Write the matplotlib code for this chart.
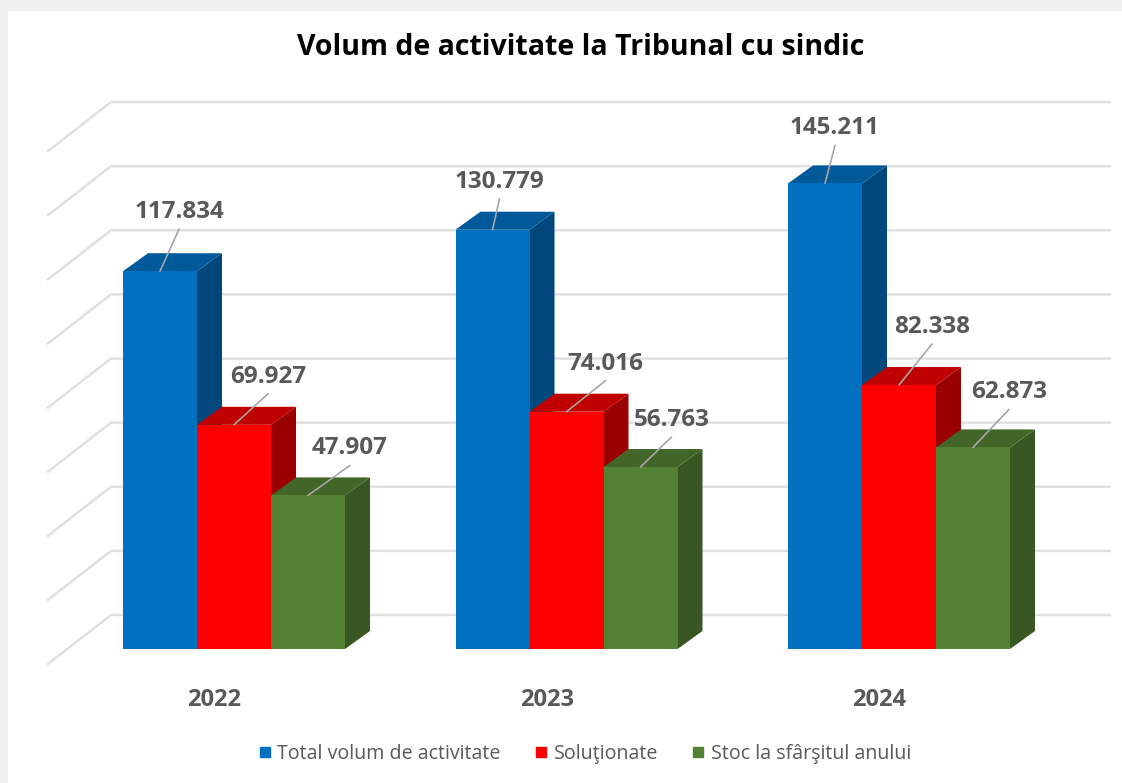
import matplotlib
matplotlib.use("Agg")
import matplotlib.pyplot as plt
import numpy as np
from matplotlib.patches import Rectangle
from matplotlib.lines import Line2D

years = ["2022", "2023", "2024"]
series_names = ["Total volum de activitate", "Soluţionate", "Stoc la sfârşitul anului"]
total_volum = [117834, 130779, 145211]
solutionate = [69927, 74016, 82338]
stoc = [47907, 56763, 62873]
grid_values = [0, 20000, 40000, 60000, 80000, 100000, 120000, 140000, 160000]

W, H = 1122, 783
PX_PER_UNIT = 0.003206          # vertical pixels per chart unit
PX_PER_CAT = 332.5              # horizontal pixels per category
BAR_W = 74 / PX_PER_CAT
DX, DY = 25, 18                 # bar depth in pixels
AX_TOP, AX_BOTTOM = 80, 668
BASE_PX, CENTER0_PX = 649, 234

front = ["#0070C0", "#FF0000", "#548235"]
top = ["#005A9A", "#C00000", "#426528"]
side = ["#00487C", "#9B0000", "#385723"]
GREY = "#595959"
plt.rcParams["font.family"] = ["Open Sans", "DejaVu Sans"]

fig = plt.figure(figsize=(W / 100, H / 100), dpi=100, facecolor="white")
ax = fig.add_axes([0, 1 - AX_BOTTOM / H, 1, (AX_BOTTOM - AX_TOP) / H])
ax.set_xlim(-CENTER0_PX / PX_PER_CAT, (W - CENTER0_PX) / PX_PER_CAT)
ax.set_ylim((BASE_PX - AX_BOTTOM) / PX_PER_UNIT, (BASE_PX - AX_TOP) / PX_PER_UNIT)
for s in ax.spines.values():
    s.set_visible(False)
ax.patch.set_alpha(0)
ax.set_yticks([])

# window frame remnants
fig.add_artist(Rectangle((0, 1 - 11 / H), 1, 11 / H, transform=fig.transFigure, fc="#F0F0F0", ec="none"))
fig.add_artist(Rectangle((0, 0), 8 / W, 1, transform=fig.transFigure, fc="#F0F0F0", ec="none"))

dx = DX / PX_PER_CAT
dy = DY / PX_PER_UNIT
back_y = 34 / PX_PER_UNIT       # back wall rise over the front baseline
wall_x = (111 - CENTER0_PX) / PX_PER_CAT
left_x = (48 - CENTER0_PX) / PX_PER_CAT
right_x = (1110 - CENTER0_PX) / PX_PER_CAT
left_drop = 15 / PX_PER_UNIT

for g in grid_values:
    ax.plot([left_x, wall_x, right_x], [g - left_drop, g + back_y, g + back_y],
            color="#E0E0E0", lw=1.8, solid_joinstyle="miter", zorder=1)

all_series = [total_volum, solutionate, stoc]
# label offsets in pixels from the middle of each bar's top front edge
label_off = [[(19, 61), (34, 50), (42, 49)],
             [(7, 50), (39, 50), (31, 49)],
             [(10, 57), (33, 60), (36, 57)]]

z = 2
for c in range(len(years)):
    for k, vals in enumerate(all_series):
        v = vals[c]
        x0 = c + (k - 1) * BAR_W - BAR_W / 2
        x1 = x0 + BAR_W
        ax.fill([x1, x1 + dx, x1 + dx, x1], [0, dy, v + dy, v], color=side[k], lw=0, zorder=z)
        ax.fill([x0, x1, x1 + dx, x0 + dx], [v, v, v + dy, v + dy], color=top[k], lw=0, zorder=z)
        z += 1
        ax.bar(c + (k - 1) * BAR_W, v, width=BAR_W, color=front[k], lw=0, zorder=z)
        z += 1

for c in range(len(years)):
    for k, vals in enumerate(all_series):
        v = vals[c]
        xc = c + (k - 1) * BAR_W
        ox, oy = label_off[c][k]
        ax.annotate("", xy=(xc, v), xytext=(ox, oy - 19), textcoords="offset pixels",
                    arrowprops=dict(arrowstyle="-", color="#A6A6A6", lw=1.2, shrinkA=0, shrinkB=0),
                    zorder=100)
        ax.annotate(f"{v:,}".replace(",", "."), xy=(xc, v), xytext=(ox, oy - 2),
                    textcoords="offset pixels", ha="center", va="center",
                    fontsize=17.5, fontweight="bold", color=GREY, zorder=101)

# category labels sit left of the bar-group centres because of the 3-D projection
ax.set_xticks([c - 19.5 / PX_PER_CAT for c in range(len(years))])
ax.set_xticklabels(years, fontsize=17, fontweight="bold", color=GREY)
ax.tick_params(axis="x", length=0, pad=14.5)

fig.text(581 / W, 1 - 47.5 / H, "Volum de activitate la Tribunal cu sindic", ha="center", va="center",
         fontsize=20.5, fontweight="bold", color="black")

handles = [Line2D([], [], ls="none", marker="s", ms=7.5, color=front[k], label=series_names[k]) for k in range(3)]
fig.legend(handles=handles, loc="center", bbox_to_anchor=(585 / W, 1 - 754 / H), ncol=3, frameon=False,
           fontsize=14.1, labelcolor=GREY, handlelength=0.6, handletextpad=0.35, columnspacing=1.75, borderpad=0)

fig.savefig("out.png", dpi=100)
